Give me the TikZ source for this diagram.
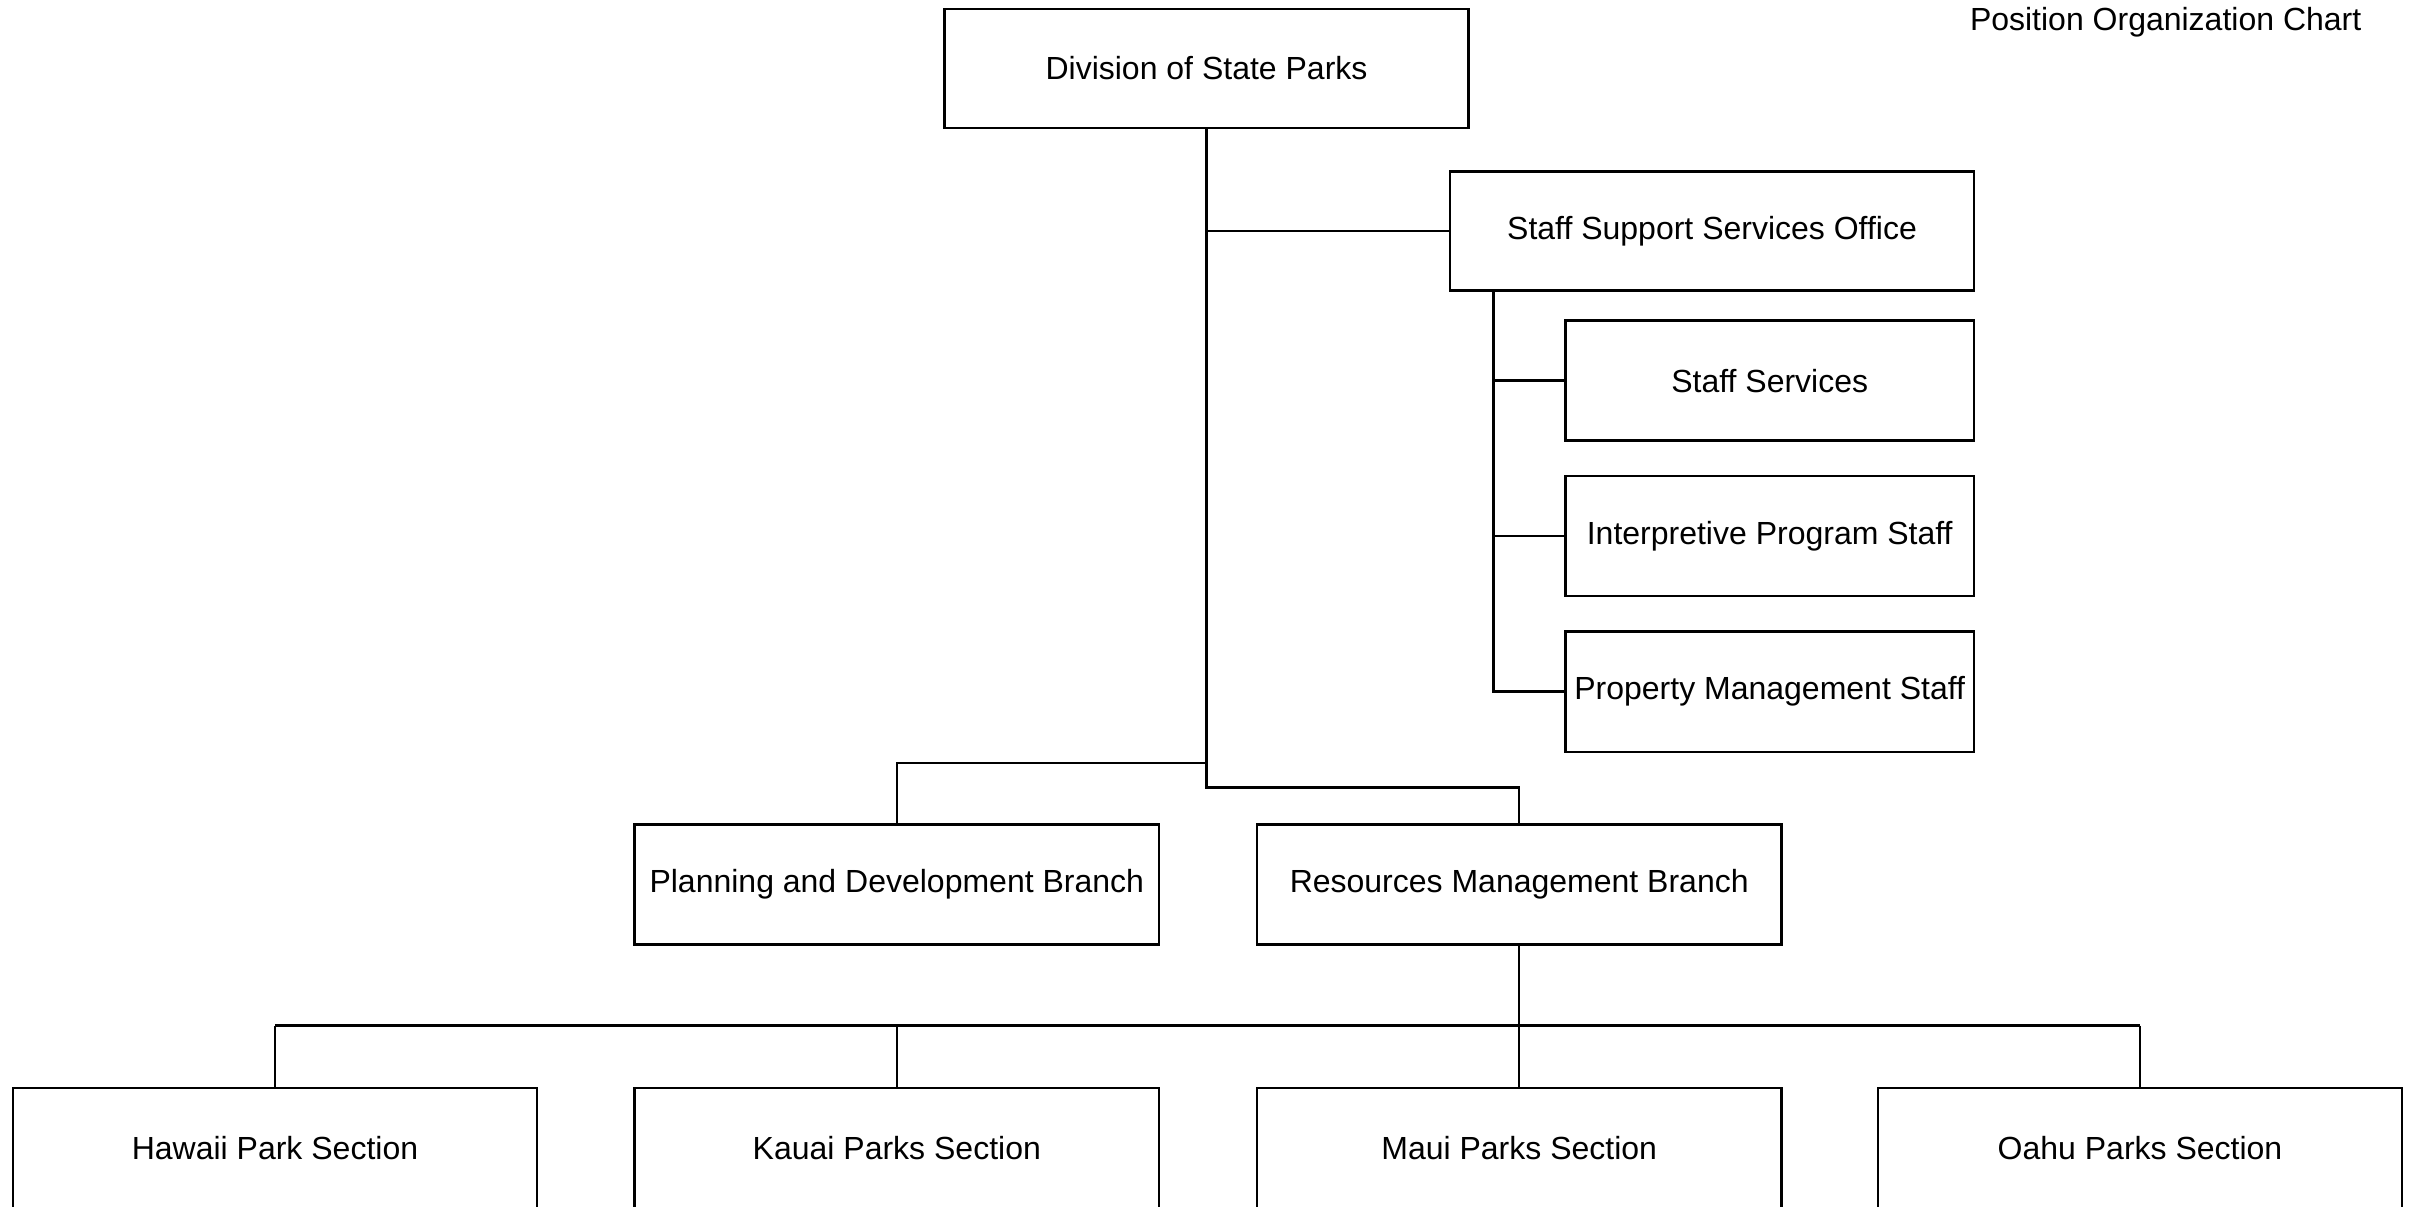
\documentclass[tikz,border=0pt]{standalone}
\usepackage{fontspec}
\setmainfont{Liberation Sans}
\usetikzlibrary{positioning}

\begin{document}
\begin{tikzpicture}[
  x=0.01cm, y=-0.01cm,
  unit/.style={rectangle, draw=black, line width=0.7pt, fill=white,
               minimum width=5.24cm, minimum height=1.19cm, inner sep=0pt,
               font=\fontsize{9.1pt}{11pt}\selectfont},
  staff/.style={unit, minimum width=4.08cm, minimum height=1.2cm},
  link/.style={line width=0.7pt, black}
]
\useasboundingbox (0,0) rectangle (2416,1207);
\node[anchor=east, inner sep=0pt, font=\fontsize{9.1pt}{11pt}\selectfont]
  (title) at (2362,22) {Position Organization Chart};
\node[unit] (div) at (1206.5,68.5) {Division of State Parks};
\node[unit] (sso) at (1712,231) {Staff Support Services Office};
\node[staff] (ss) at (1769.7,380.6) {Staff Services};
\node[staff, below=3.3mm of ss] (ips) {Interpretive Program Staff};
\node[staff, below=3.3mm of ips] (pms) {Property Management Staff};
\node[unit, minimum height=1.2cm] (pdb) at (896.8,884.4) {Planning and Development Branch};
\node[unit, minimum height=1.2cm] (rmb) at (1519.2,884.4) {Resources Management Branch};
\node[unit, minimum height=1.2cm] (hps) at (275,1147.8) {Hawaii Park Section};
\node[unit, minimum height=1.2cm] (kps) at (896.8,1147.8) {Kauai Parks Section};
\node[unit, minimum height=1.2cm] (mps) at (1519.2,1147.8) {Maui Parks Section};
\node[unit, minimum height=1.2cm] (ops) at (2140,1147.8) {Oahu Parks Section};
% division to branches
\coordinate (jp) at ([yshift=6mm]pdb.north);
\draw[link] (div.south) |- ([yshift=3.54mm]rmb.north) -- (rmb.north);
\draw[link] (jp -| div.south) -- (jp) -- (pdb.north);
\draw[link] (div.south |- sso.west) -- (sso.west);
% staff support office
\coordinate (st) at ([xshift=4.46mm]sso.south west);
\draw[link] (st) |- (pms.west);
\draw[link] (st |- ss.west) -- (ss.west);
\draw[link] (st |- ips.west) -- (ips.west);
% resources management sections
\coordinate (jb) at ([yshift=-8mm]rmb.south);
\draw[link] (rmb.south) -- (jb);
\draw[link] (jb -| hps.north) -- (jb -| ops.north);
\draw[link] (jb -| hps.north) -- (hps.north);
\draw[link] (jb -| kps.north) -- (kps.north);
\draw[link] (jb -| mps.north) -- (mps.north);
\draw[link] (jb -| ops.north) -- (ops.north);
\end{tikzpicture}
\end{document}
